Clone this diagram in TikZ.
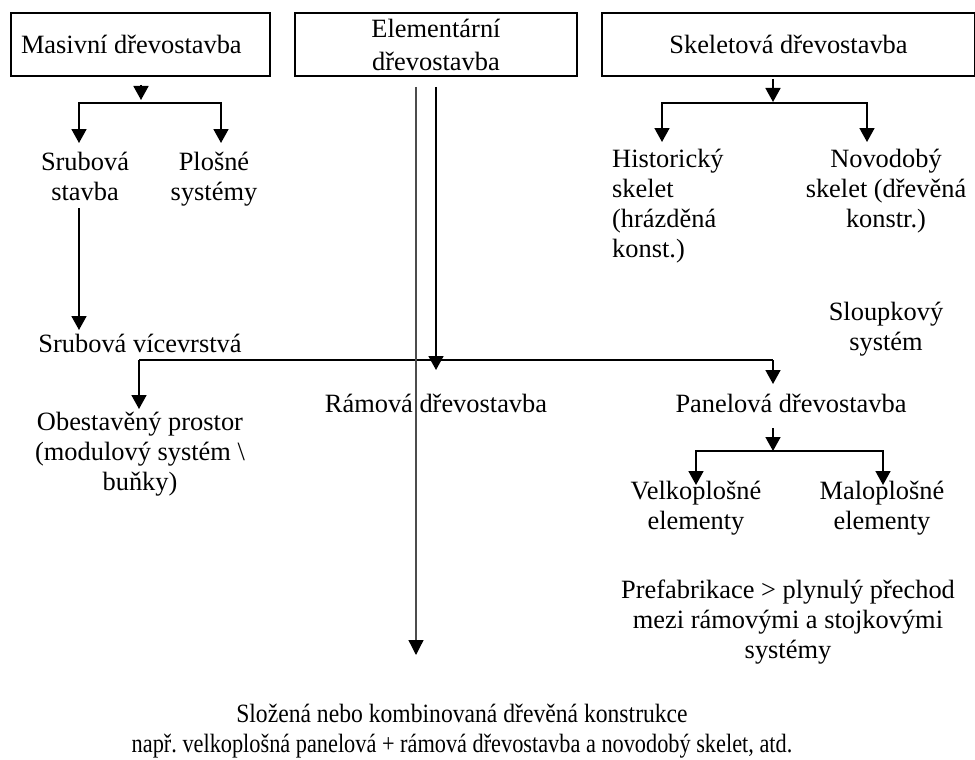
\documentclass[tikz,border=0pt]{standalone}
\usepackage{fontspec}
\setmainfont{Liberation Serif}
\usetikzlibrary{arrows.meta}
\newcommand{\mlines}[2][c]{\begin{tabular}[t]{@{}#1@{}}#2\end{tabular}}
\begin{document}
\frenchspacing
\begin{tikzpicture}[x=1pt,y=-1pt,
  every node/.style={font=\fontsize{26.4}{30}\selectfont\frenchspacing, inner sep=0pt, align=center},
  txt/.style={anchor=base},
  boxnode/.style={draw, line width=1.6pt, minimum height=63pt},
  arr/.style={line width=1.7pt, -{Triangle[width=15pt,length=14pt]}},
  thinarr/.style={line width=1.3pt, draw=black!70, -{Triangle[width=15pt,length=15pt,color=black]}},
  hline/.style={line width=1.3pt}
]
\useasboundingbox (0,0) rectangle (975,760);

% top boxes
\node[boxnode, minimum width=259pt] (masiv) at (140.5,44.5) {\makebox[239pt][l]{Masivní dřevostavba}};
\node[boxnode, minimum width=282pt, font=\fontsize{26.4}{33}\selectfont] (elem) at (436,44.5) {Elementární\\dřevostavba};
\node[boxnode, minimum width=373pt] (skel) at (788.5,44.5) {Skeletová dřevostavba};

% text nodes
\node[txt] (srub) at (85,170) {\mlines{Srubová\\stavba}};
\node[txt] (plos) at (214,170) {\mlines{Plošné\\systémy}};
\node[txt] (srubvic) at (140,352) {Srubová vícevrstvá};
\node[txt] (obest) at (140,430) {\mlines{Obestavěný prostor\\(modulový systém \textbackslash\\buňky)}};
\node[txt] (ramova) at (436,412) {Rámová dřevostavba};
\node[txt] (panel) at (791,412) {Panelová dřevostavba};
\node[anchor=base west] (hist) at (612,167) {\mlines[l]{Historický\\skelet\\(hrázděná\\konst.)}};
\node[txt] (novo) at (886,167) {\mlines{Novodobý\\skelet (dřevěná\\konstr.)}};
\node[txt] (sloup) at (886,320) {\mlines{Sloupkový\\systém}};
\node[txt] (velk) at (696,499) {\mlines{Velkoplošné\\elementy}};
\node[txt] (malo) at (882,499) {\mlines{Maloplošné\\elementy}};
\node[txt] (pref) at (788,598) {\mlines{Prefabrikace > plynulý přechod\\mezi rámovými a stojkovými\\systémy}};
\node[txt] (sloz) at (462,722) {\mlines{\scalebox{0.895}[1]{Složená nebo kombinovaná dřevěná konstrukce}\\\scalebox{0.845}[1]{např. velkoplošná panelová + rámová dřevostavba a novodobý skelet, atd.}}};

% Masivní fork
\coordinate (mA) at (141,85);
\coordinate (mB) at (141,100);
\coordinate (mJ) at (141,103);
\coordinate (mL) at (79,143);
\coordinate (mR) at (221,143);
\draw[arr] (mA) -- (mB);
\draw[arr] (mJ) -| (mL);
\draw[arr] (mJ) -| (mR);

% Srubová stavba -> Srubová vícevrstvá
\coordinate (sA) at (79,208);
\coordinate (sB) at (79,330);
\draw[arr] (sA) -- (sB);

% horizontal distribution at y=360
\coordinate (hLc) at (139,360);
\coordinate (hRc) at (773,360);
\coordinate (hL) at (139,409);
\coordinate (hR) at (773,384);
\draw[hline] (hLc) -- (hRc);
\draw[arr] (hLc) -- (hL);
\draw[arr] (hRc) -- (hR);

% Elementární lines
\coordinate (eA) at (416,87);
\coordinate (eB) at (416,655);
\coordinate (eC) at (436,87);
\coordinate (eD) at (436,370);
\draw[thinarr] (eA) -- (eB);
\draw[arr] (eC) -- (eD);

% Skeletová fork
\coordinate (kA) at (773,79);
\coordinate (kB) at (773,102);
\coordinate (kJ) at (773,103);
\coordinate (kL) at (662,142);
\coordinate (kR) at (867,142);
\draw[arr] (kA) -- (kB);
\draw[arr] (kJ) -| (kL);
\draw[arr] (kJ) -| (kR);

% Panelová fork
\coordinate (pA) at (773,428);
\coordinate (pB) at (773,451);
\coordinate (pJ) at (773,451);
\coordinate (pL) at (696,485);
\coordinate (pR) at (883,485);
\draw[arr] (pA) -- (pB);
\draw[arr] (pJ) -| (pL);
\draw[arr] (pJ) -| (pR);
\end{tikzpicture}
\end{document}
